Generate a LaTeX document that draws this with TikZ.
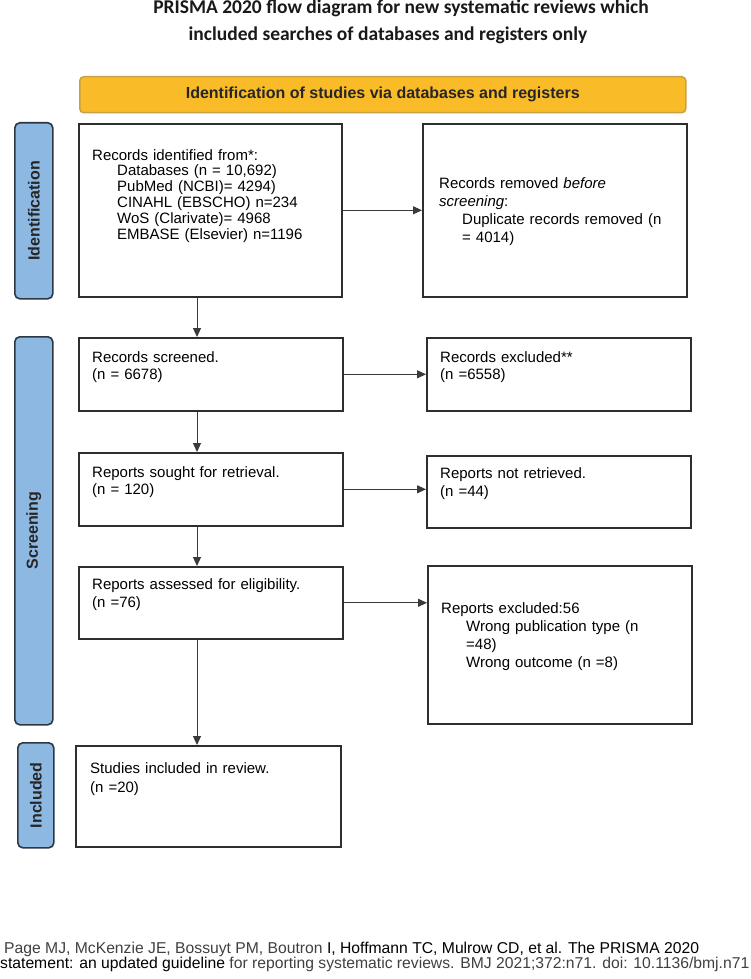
\documentclass[tikz,border=0pt]{standalone}
\usepackage{fontspec}
\setmainfont{Liberation Sans}
\newfontfamily\titlefont{Carlito}
\usetikzlibrary{arrows.meta}
\definecolor{boxline}{HTML}{2E2E2E}
\definecolor{arrline}{HTML}{3A3A3A}
\definecolor{hdrfill}{HTML}{F9BC28}
\definecolor{hdrline}{HTML}{C9A045}
\definecolor{sidefill}{HTML}{8DB8E1}
\definecolor{sideline}{HTML}{2C3746}
\definecolor{refgray}{HTML}{404040}
\tikzset{
  bx/.style={draw=boxline, line width=1.6pt, anchor=north west, inner sep=0pt},
  side/.style={draw=sideline, fill=sidefill, line width=1.6pt, rounded corners=5pt, anchor=north west, inner sep=0pt},
  sidetxt/.style={rotate=90, font=\fontsize{16}{16}\selectfont\bfseries, text=black!85},
  txt/.style={anchor=base west, inner sep=0pt, text width=260pt, align=left, font=\fontsize{15}{14}\selectfont},
  ttl/.style={anchor=base, inner sep=0pt, font=\titlefont\fontsize{19.5}{24}\selectfont\bfseries, text=black!90},
  reftxt/.style={anchor=base west, inner sep=0pt, font=\fontsize{15.7}{16}\selectfont, text=refgray},
  arr/.style={draw=arrline, line width=1pt, -{Triangle[length=9pt,width=8pt]}}
}
\begin{document}
\begin{tikzpicture}[x=1pt,y=-1pt]
\useasboundingbox (0,0) rectangle (750,979);

% title
\node[ttl] (title1) at (401,14) {PRISMA 2020 flow diagram for new systematic reviews which};
\node[ttl] (title2) at (388,41) {included searches of databases and registers only};

% header bar
\node[anchor=north west, minimum width=606pt, minimum height=36pt, fill=hdrfill, draw=hdrline, line width=1.5pt, rounded corners=4pt, inner sep=0pt] (hdr) at (79,76) {};
\node[font=\fontsize{16}{16}\selectfont\bfseries, text=black!85] (hdrtxt) at (hdr.center) {Identification of studies via databases and registers};

% side labels
\node[side, minimum width=38pt, minimum height=176pt] (s1) at (14,122) {};
\node[sidetxt] (s1t) at (s1.center) {Identification};
\node[side, minimum width=38pt, minimum height=388pt] (s2) at (14,336) {};
\node[sidetxt] (s2t) at (s2.center) {Screening};
\node[side, minimum width=36pt, minimum height=105pt] (s3) at (17,742) {};
\node[sidetxt] (s3t) at (s3.center) {Included};

% boxes
\node[bx, minimum width=263pt, minimum height=173pt] (b1) at (78,123) {};
\node[bx, minimum width=264pt, minimum height=173pt] (r1) at (422,123) {};
\node[bx, minimum width=264pt, minimum height=73pt] (b2) at (78,337) {};
\node[bx, minimum width=264pt, minimum height=73pt] (r2) at (426,337) {};
\node[bx, minimum width=264pt, minimum height=73pt] (b3) at (78,452) {};
\node[bx, minimum width=264pt, minimum height=72pt] (r3) at (426,455) {};
\node[bx, minimum width=264pt, minimum height=72pt] (b4) at (78,566) {};
\node[bx, minimum width=264pt, minimum height=158pt] (r4) at (427,565) {};
\node[bx, minimum width=265pt, minimum height=101pt] (b5) at (75,745) {};

% texts
\node[txt, font=\fontsize{15}{15.8}\selectfont] (t1) at (92,160) {Records identified from*:\\
\hspace*{25pt}Databases (n = 10,692)\\
\hspace*{25pt}PubMed (NCBI)= 4294)\\
\hspace*{25pt}CINAHL (EBSCHO) n=234\\
\hspace*{25pt}WoS (Clarivate)= 4968\\
\hspace*{25pt}EMBASE (Elsevier) n=1196};
\node[txt, font=\fontsize{15}{18}\selectfont] (tr1) at (439,188) {Records removed \textit{before}\\
\textit{screening}:\\
\hspace*{23pt}Duplicate records removed (n\\
\hspace*{23pt}= 4014)};
\node[txt, font=\fontsize{15}{17}\selectfont] (t2) at (92,362) {Records screened.\\(n = 6678)};
\node[txt, font=\fontsize{15}{17}\selectfont] (tr2) at (440,362) {Records excluded**\\(n =6558)};
\node[txt, font=\fontsize{15}{17}\selectfont] (t3) at (92,477) {Reports sought for retrieval.\\(n = 120)};
\node[txt, font=\fontsize{15}{18}\selectfont] (tr3) at (440,478) {Reports not retrieved.\\(n =44)};
\node[txt, font=\fontsize{15}{18.5}\selectfont] (t4) at (92,589) {Reports assessed for eligibility.\\(n =76)};
\node[txt, font=\fontsize{15}{18.3}\selectfont] (tr4) at (441,613) {Reports excluded:56\\
\hspace*{25pt}Wrong publication type (n\\
\hspace*{25pt}=48)\\
\hspace*{25pt}Wrong outcome (n =8)};
\node[txt, font=\fontsize{15}{19}\selectfont] (t5) at (90,773) {Studies included in review.\\(n =20)};

% arrows
\coordinate (ax) at (197,0);
\draw[arr] (b1.south -| ax) -- (b2.north -| ax);
\draw[arr] (b2.south -| ax) -- (b3.north -| ax);
\draw[arr] (b3.south -| ax) -- (b4.north -| ax);
\draw[arr] (b4.south -| ax) -- (b5.north -| ax);
\draw[arr] (b1.east) -- (b1.east -| r1.west);
\draw[arr] (b2.east) -- (b2.east -| r2.west);
\draw[arr] (b3.east) -- (b3.east -| r3.west);
\draw[arr] (b4.east) -- (b4.east -| r4.west);

% footer
\node[reftxt] (ref1) at (4,953)
  {Page MJ, McKenzie JE, Bossuyt PM, Boutron \textcolor{black}{I, Hoffmann TC, Mulrow CD, et al. The PRISMA 2020}};
\node[reftxt] (ref2) at (0,968)
  {\textcolor{black}{statement: an updated guideline} for reporting systematic reviews. BMJ 2021;372:n71. doi: 10.1136/bmj.n71};
\end{tikzpicture}
\end{document}
